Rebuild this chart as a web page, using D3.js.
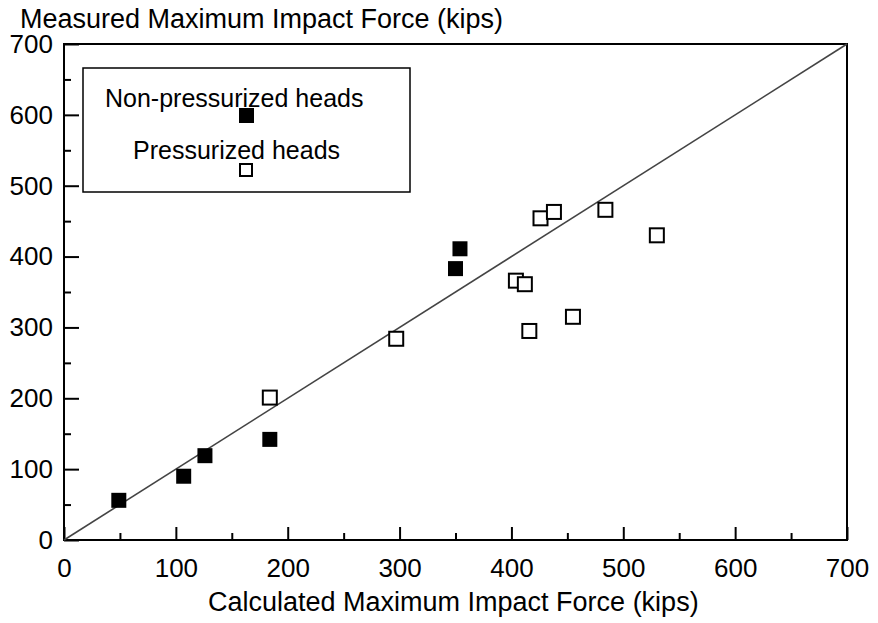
<!DOCTYPE html>
<html>
<head>
<meta charset="utf-8">
<script src="https://cdn.jsdelivr.net/npm/d3@7"></script>
<style>
  body { margin: 0; background: #fff; }
  text { font-family: "Liberation Sans", Arial, sans-serif; fill: #000; }
</style>
</head>
<body>
<svg id="chart"></svg>
<script>

// data (kips)
var nonPressCalc = [49, 107, 126, 184, 350, 354]
var nonPressMeas = [56, 90, 119, 142, 383, 411]

var pressCalc = [184, 297, 404, 412, 416, 426, 438, 455, 484, 530]
var pressMeas = [201, 284, 366, 361, 295, 454, 463, 315, 466, 430]

var majorTicks = [0, 100, 200, 300, 400, 500, 600, 700]
var minorTicks = [50, 150, 250, 350, 450, 550, 650]

var legendLabels = ["Non-pressurized heads", "Pressurized heads"]

var width = 878, height = 623
var plotLeft = 64, plotRight = 847, plotTop = 44, plotBottom = 540

var svg = d3.select("#chart")
    .attr("width", width)
    .attr("height", height)

var xScale = d3.scaleLinear()
    .domain([0, 700])
    .range([plotLeft, plotRight])

var yScale = d3.scaleLinear()
    .domain([0, 700])
    .range([plotBottom, plotTop])

// minor ticks first
svg.append("g")
    .attr("transform", "translate(0," + plotBottom + ")")
    .call(d3.axisBottom(xScale).tickValues(minorTicks).tickSize(-7).tickFormat(""))
    .call(g => g.select(".domain").remove())

svg.append("g")
    .attr("transform", "translate(" + plotLeft + ",0)")
    .call(d3.axisLeft(yScale).tickValues(minorTicks).tickSize(-7).tickFormat(""))
    .call(g => g.select(".domain").remove())

var x_axis = d3.axisBottom(xScale)
    .tickValues(majorTicks)
    .tickSize(-13)
    .tickPadding(19)
    .tickFormat(d3.format("d"))

var y_axis = d3.axisLeft(yScale)
    .tickValues(majorTicks)
    .tickSize(-15)
    .tickPadding(11)
    .tickFormat(d3.format("d"))

svg.append("g")
    .attr("id", "xaxis")
    .attr("transform", "translate(0," + plotBottom + ")")
    .call(x_axis)
    .call(g => g.select(".domain").remove())

svg.append("g")
    .attr("id", "yaxis")
    .attr("transform", "translate(" + plotLeft + ",0)")
    .call(y_axis)
    .call(g => g.select(".domain").remove())

svg.selectAll(".tick line")
    .attr("stroke", "#000")
    .attr("stroke-width", 2)

svg.selectAll(".tick text")
    .attr("font-size", 26)
    .attr("font-family", "Liberation Sans, Arial, sans-serif")

// frame
svg.append("rect")
    .attr("x", plotLeft)
    .attr("y", plotTop)
    .attr("width", plotRight - plotLeft)
    .attr("height", plotBottom - plotTop)
    .attr("fill", "none")
    .attr("stroke", "#000")
    .attr("stroke-width", 2)

// 1:1 line
svg.append("path")
    .datum([0, 700])
    .attr("d", d3.line()
        .x(function(d) { return xScale(d) })
        .y(function(d) { return yScale(d) }))
    .attr("fill", "none")
    .attr("stroke", "#444")
    .attr("stroke-width", 1.6)

var s = 14

svg.append("g")
    .selectAll("rect")
    .data(pressCalc)
    .enter()
    .append("rect")
    .attr("x", function(d) { return xScale(d) - s / 2 })
    .attr("y", function(d, i) { return yScale(pressMeas[i]) - s / 2 })
    .attr("width", s)
    .attr("height", s)
    .attr("fill", "#fff")
    .attr("stroke", "#000")
    .attr("stroke-width", 2)

svg.append("g")
    .selectAll("rect")
    .data(nonPressCalc)
    .enter()
    .append("rect")
    .attr("x", function(d) { return xScale(d) - 7.5 })
    .attr("y", function(d, i) { return yScale(nonPressMeas[i]) - 7.5 })
    .attr("width", 15)
    .attr("height", 15)
    .attr("fill", "#000")

// legend
var legend = svg.append("g")

legend.append("rect")
    .attr("x", 83)
    .attr("y", 68)
    .attr("width", 327)
    .attr("height", 124)
    .attr("fill", "#fff")
    .attr("stroke", "#000")
    .attr("stroke-width", 1.5)

legend.append("text")
    .attr("x", 105)
    .attr("y", 107)
    .attr("font-size", 25)
    .text(legendLabels[0])

legend.append("rect")
    .attr("x", 239)
    .attr("y", 108)
    .attr("width", 15)
    .attr("height", 15)
    .attr("fill", "#000")

legend.append("text")
    .attr("x", 133)
    .attr("y", 159)
    .attr("font-size", 25)
    .text(legendLabels[1])

legend.append("rect")
    .attr("x", 240)
    .attr("y", 164)
    .attr("width", 12)
    .attr("height", 12)
    .attr("fill", "#fff")
    .attr("stroke", "#000")
    .attr("stroke-width", 2)

// axis titles
svg.append("text")
    .attr("x", 20)
    .attr("y", 28)
    .attr("font-size", 27)
    .text("Measured Maximum Impact Force (kips)")

svg.append("text")
    .attr("x", 208)
    .attr("y", 611)
    .attr("font-size", 27)
    .text("Calculated Maximum Impact Force (kips)")

</script>
</body>
</html>
